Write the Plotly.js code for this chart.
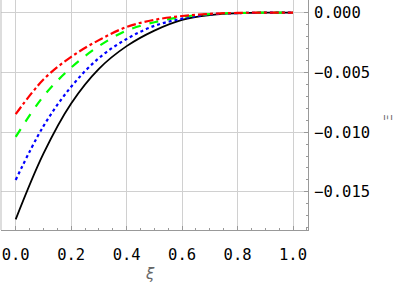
<!DOCTYPE html>
<html>
<head>
<meta charset="utf-8">
<script src="https://cdn.plot.ly/plotly-3.0.1.min.js"></script>
<style>html,body{margin:0;padding:0;background:#fff;}#chart{width:399px;height:283px;}</style>
</head>
<body>
<div id="chart"></div>
<script>
var xi = [0, 0.1, 0.2, 0.3, 0.4, 0.5, 0.6, 0.7, 0.8, 0.9, 1.0];
var blackSeries = [-0.0173, -0.0118, -0.0076, -0.0047, -0.0028, -0.0015, -0.0006, -0.0002, -0.00005, 0, 0];
var blueSeries  = [-0.0140, -0.0095, -0.0062, -0.0038, -0.0022, -0.0011, -0.0005, -0.00015, -0.00004, 0, 0];
var greenSeries = [-0.0104, -0.0070, -0.0046, -0.0028, -0.0015, -0.0008, -0.00036, -0.00012, -0.00003, 0, 0];
var redSeries   = [-0.0085, -0.0056, -0.0037, -0.0023, -0.0012, -0.0006, -0.00028, -0.0001, -0.00002, 0, 0];
var xTicks = [0, 0.2, 0.4, 0.6, 0.8, 1.0];
var xTickText = ['0.0', '0.2', '0.4', '0.6', '0.8', '1.0'];
var yTicks = [0, -0.005, -0.010, -0.015];
var yTickText = ['0.000', '\u22120.005', '\u22120.010', '\u22120.015'];

function tr(y, color, dash, width) {
  return {x: xi, y: y, type: 'scatter', mode: 'lines',
    line: {color: color, dash: dash, width: width, shape: 'spline', smoothing: 1},
    hoverinfo: 'skip', showlegend: false};
}
var data = [
  tr(blackSeries, '#000000', 'solid', 1.8),
  tr(blueSeries, '#0000ff', 'dot', 2.2),
  tr(greenSeries, '#00ff00', 'dash', 2.2),
  tr(redSeries, '#ff0000', 'dashdot', 2.2)
];
var tickFont = {family: 'DejaVu Sans Mono', size: 15.5, color: '#000'};
var layout = {
  width: 399, height: 283,
  margin: {l: 1, r: 91, t: 0, b: 53, pad: 0},
  paper_bgcolor: '#fff', plot_bgcolor: '#fff',
  showlegend: false,
  xaxis: {
    range: [-0.053, 1.054], tickvals: xTicks, ticktext: xTickText,
    ticks: 'inside', ticklen: 4, tickcolor: '#999', tickwidth: 1,
    showline: true, linecolor: '#999', linewidth: 1, mirror: false,
    showgrid: true, gridcolor: '#d0d0d0', gridwidth: 1, zeroline: false,
    tickfont: tickFont, ticklabelstandoff: 10,
    minor: {dtick: 0.05, tick0: 0, ticks: 'inside', ticklen: 2, tickcolor: '#999', showgrid: false}
  },
  yaxis: {
    side: 'right',
    range: [-0.01819, 0.00106], tickvals: yTicks, ticktext: yTickText,
    ticks: 'inside', ticklen: 4, tickcolor: '#999', tickwidth: 1,
    showline: true, linecolor: '#999', linewidth: 1,
    showgrid: true, gridcolor: '#d0d0d0', gridwidth: 1, zeroline: false,
    tickfont: tickFont, ticklabelstandoff: 2,
    minor: {dtick: 0.001, tick0: 0, ticks: 'inside', ticklen: 2, tickcolor: '#999', showgrid: false}
  },
  annotations: [
    {text: '\u03be', xref: 'paper', yref: 'paper', x: 0.485, y: -0.19,
     xanchor: 'center', yanchor: 'middle', showarrow: false,
     font: {family: 'DejaVu Sans', size: 15, color: '#666', style: 'italic'}},
    {text: '\u039e', xref: 'paper', yref: 'paper', x: 1.26, y: 0.49,
     xanchor: 'center', yanchor: 'middle', showarrow: false, textangle: -90,
     font: {family: 'DejaVu Sans', size: 11, color: '#666'}}
  ],
  shapes: [{type: 'line', xref: 'paper', yref: 'paper', x0: 0, x1: 0, y0: 0, y1: 1,
    line: {color: '#bbb', width: 1}}]
};
Plotly.newPlot('chart', data, layout, {staticPlot: true, displayModeBar: false});
</script>
</body>
</html>
